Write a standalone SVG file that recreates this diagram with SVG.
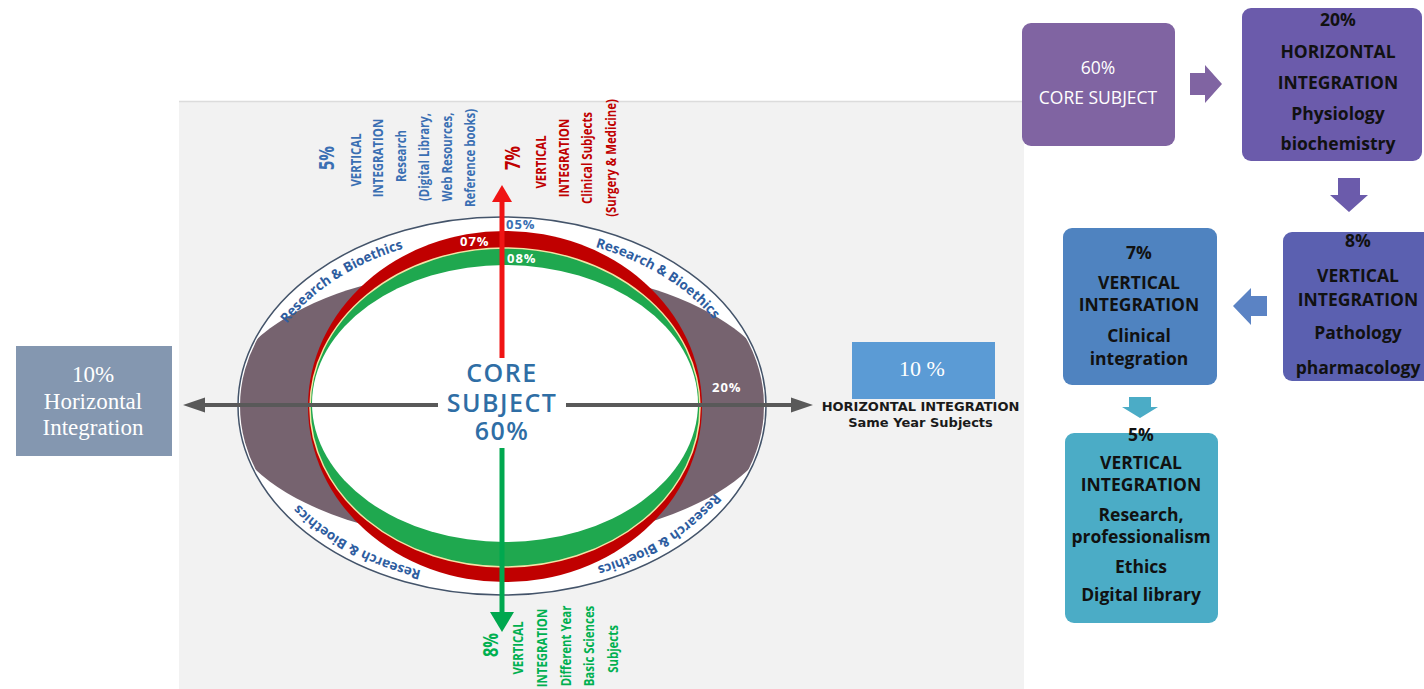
<svg xmlns="http://www.w3.org/2000/svg" width="1424" height="689" viewBox="0 0 1424 689">
<style>
.rb{font-family:"Open Sans","Liberation Sans",sans-serif;font-weight:700;font-size:13.5px;fill:#2e5d9f;}
.pct{font-family:"Open Sans","Liberation Sans",sans-serif;font-weight:700;font-size:13px;letter-spacing:1px;}
.rot{font-family:"Open Sans","Liberation Sans",sans-serif;font-weight:700;font-size:15px;text-anchor:middle;}
.big{font-size:21px;}
.blue{fill:#3a6fb3;}
.red{fill:#c00000;}
.green{fill:#00b050;}
.core{font-family:"Open Sans","Liberation Sans",sans-serif;font-weight:600;font-size:25px;letter-spacing:1.5px;fill:#2f6ea5;stroke:#ffffff;stroke-width:4px;paint-order:stroke;text-anchor:middle;}
.bx{font-family:"Open Sans","Liberation Sans",sans-serif;font-weight:700;font-size:17.5px;fill:#111111;text-anchor:middle;}
.bxw{font-family:"Open Sans","Liberation Sans",sans-serif;font-size:17.5px;fill:#ffffff;text-anchor:middle;}
.serif{font-family:"Liberation Serif","Times New Roman",serif;fill:#ffffff;text-anchor:middle;}
.hz{font-family:"DejaVu Sans","Verdana",sans-serif;font-weight:700;font-size:13px;fill:#1a1a1a;text-anchor:middle;}
</style>
<defs>
<clipPath id="outerClip"><ellipse cx="502" cy="406" rx="262" ry="187"/></clipPath>
<path id="arcTL" d="M266.5,358.6 A245,172 0 0 1 442.7,239.1"/>
<path id="arcTR" d="M554.9,238.1 A245,172 0 0 1 735.7,354.2"/>
<path id="arcBR" d="M736.3,458.3 A245,172 0 0 1 557.1,575.6"/>
<path id="arcBL" d="M463.8,577.9 A245,172 0 0 1 273.2,469.6"/>
</defs>

<rect x="179" y="101" width="845" height="588" fill="#f2f2f2"/>
<line x1="179" y1="101.5" x2="1024" y2="101.5" stroke="#dcdcdc" stroke-width="1.5"/>

<g id="integration-ellipse">
<ellipse cx="502" cy="406" rx="264" ry="189" fill="#ffffff" stroke="#44546a" stroke-width="1.5"/>
<ellipse cx="502" cy="405" rx="279" ry="138" fill="#76636f" clip-path="url(#outerClip)"/>
<ellipse cx="505" cy="406.5" rx="197" ry="175.5" fill="#c00000"/>
<ellipse cx="505" cy="407.5" rx="195" ry="159.5" fill="#1fa84f" stroke="#f3e4a6" stroke-width="1.5"/>
<ellipse cx="505" cy="403.5" rx="193" ry="138.5" fill="#ffffff"/>
<text class="rb"><textPath href="#arcTL" startOffset="50%" text-anchor="middle">Research &amp; Bioethics</textPath></text>
<text class="rb"><textPath href="#arcTR" startOffset="50%" text-anchor="middle">Research &amp; Bioethics</textPath></text>
<text class="rb"><textPath href="#arcBR" startOffset="50%" text-anchor="middle">Research &amp; Bioethics</textPath></text>
<text class="rb"><textPath href="#arcBL" startOffset="50%" text-anchor="middle">Research &amp; Bioethics</textPath></text>
<text class="pct blue" x="506" y="229">05%</text>
<text class="pct" x="460" y="246" fill="#ffffff">07%</text>
<text class="pct" x="507" y="263" fill="#ffffff">08%</text>
<text class="pct" x="712" y="392" fill="#ffffff">20%</text>
</g>

<g id="connectors">
<g id="horizontal-arrow" fill="#595959">
<rect x="200" y="403" width="238" height="4"/>
<rect x="566" y="403" width="229" height="4"/>
<polygon points="183,405 205,397.5 205,412.5"/>
<polygon points="813,405 791,397.5 791,412.5"/>
</g>
<g id="vertical-up-arrow" fill="#f01414">
<rect x="499.5" y="198" width="5" height="160"/>
<polygon points="502,185 512,202 492,202"/>
</g>
<g id="vertical-down-arrow" fill="#00a84f">
<rect x="499.5" y="448" width="5" height="167"/>
<polygon points="490,612 514,612 502,632"/>
</g>
<polygon id="arrow-core-to-horizontal" fill="#8064a2" points="1190,73 1205,73 1205,65 1222,84 1205,103 1205,95 1190,95"/>
<polygon id="arrow-horizontal-to-vertical8" fill="#6b5bab" points="1338,178 1360,178 1360,195 1368,195 1349,212 1330,195 1338,195"/>
<polygon id="arrow-vertical8-to-vertical7" fill="#5b83c4" points="1267,296 1267,316 1251,316 1251,325 1233,306 1251,288 1251,296"/>
<polygon id="arrow-vertical7-to-vertical5" fill="#4bacc6" points="1129,397 1151,397 1151,407 1158,407 1140,418 1122,407 1129,407"/>
</g>

<g id="core-subject-center">
<text class="core" x="502" y="382">CORE</text>
<text class="core" x="502" y="412">SUBJECT</text>
<text class="core" x="502" y="440">60%</text>
</g>

<g id="label-vertical-5">
<text class="rot big blue" transform="translate(334,158) rotate(-90) scale(0.78,1)">5%</text>
<text class="rot blue" transform="translate(361,160) rotate(-90) scale(0.76,1)">VERTICAL</text>
<text class="rot blue" transform="translate(383,158) rotate(-90) scale(0.76,1)">INTEGRATION</text>
<text class="rot blue" transform="translate(406,156) rotate(-90) scale(0.76,1)">Research</text>
<text class="rot blue" transform="translate(429,157) rotate(-90) scale(0.76,1)">(Digital Library,</text>
<text class="rot blue" transform="translate(452,157) rotate(-90) scale(0.76,1)">Web Resources,</text>
<text class="rot blue" transform="translate(475,158) rotate(-90) scale(0.76,1)">Reference books)</text>
</g>

<g id="label-vertical-7">
<text class="rot big red" transform="translate(520,158) rotate(-90) scale(0.78,1)">7%</text>
<text class="rot red" transform="translate(546,162) rotate(-90) scale(0.76,1)">VERTICAL</text>
<text class="rot red" transform="translate(569,158) rotate(-90) scale(0.76,1)">INTEGRATION</text>
<text class="rot red" transform="translate(592,158) rotate(-90) scale(0.76,1)">Clinical Subjects</text>
<text class="rot red" transform="translate(616,158) rotate(-90) scale(0.76,1)">(Surgery &amp; Medicine)</text>
</g>

<g id="label-vertical-8">
<text class="rot big green" transform="translate(498,645) rotate(-90) scale(0.78,1)">8%</text>
<text class="rot green" transform="translate(523,648) rotate(-90) scale(0.76,1)">VERTICAL</text>
<text class="rot green" transform="translate(547,648) rotate(-90) scale(0.76,1)">INTEGRATION</text>
<text class="rot green" transform="translate(571,646) rotate(-90) scale(0.76,1)">Different Year</text>
<text class="rot green" transform="translate(594,646) rotate(-90) scale(0.76,1)">Basic Sciences</text>
<text class="rot green" transform="translate(618,649) rotate(-90) scale(0.76,1)">Subjects</text>
</g>

<g id="label-horizontal-right">
<text class="hz" x="920.5" y="411">HORIZONTAL INTEGRATION</text>
<text class="hz" x="920.5" y="427">Same Year Subjects</text>
</g>

<g id="box-10-right">
<rect x="852" y="342" width="143" height="57" fill="#5b9bd5"/>
<text class="serif" x="922" y="376" font-size="22">10 %</text>
</g>

<g id="box-10-left">
<rect x="16" y="346" width="156" height="110" fill="#8497b0"/>
<text class="serif" x="93" y="382" font-size="23">10%</text>
<text class="serif" x="93" y="409" font-size="23">Horizontal</text>
<text class="serif" x="93" y="435" font-size="23">Integration</text>
</g>

<g id="flow-core">
<rect x="1022" y="23" width="153" height="123" rx="9" fill="#8064a2"/>
<text class="bxw" x="1098" y="74">60%</text>
<text class="bxw" x="1098" y="104">CORE SUBJECT</text>
</g>

<g id="flow-horizontal-20">
<rect x="1242" y="8" width="180" height="153" rx="9" fill="#6b5bab"/>
<text class="bx" x="1338" y="26">20%</text>
<text class="bx" x="1338" y="58">HORIZONTAL</text>
<text class="bx" x="1338" y="89">INTEGRATION</text>
<text class="bx" x="1338" y="120">Physiology</text>
<text class="bx" x="1338" y="150">biochemistry</text>
</g>

<g id="flow-vertical-8">
<rect x="1283" y="232" width="155" height="149" rx="9" fill="#5b60b0"/>
<text class="bx" x="1358" y="247">8%</text>
<text class="bx" x="1358" y="282">VERTICAL</text>
<text class="bx" x="1358" y="306">INTEGRATION</text>
<text class="bx" x="1358" y="339">Pathology</text>
<text class="bx" x="1358" y="374">pharmacology</text>
</g>

<g id="flow-vertical-7">
<rect x="1063" y="228" width="154" height="157" rx="9" fill="#4f83c0"/>
<text class="bx" x="1139" y="259">7%</text>
<text class="bx" x="1139" y="289">VERTICAL</text>
<text class="bx" x="1139" y="311">INTEGRATION</text>
<text class="bx" x="1139" y="342">Clinical</text>
<text class="bx" x="1139" y="365">integration</text>
</g>

<g id="flow-vertical-5">
<rect x="1065" y="433" width="153" height="190" rx="9" fill="#4bacc6"/>
<text class="bx" x="1141" y="441">5%</text>
<text class="bx" x="1141" y="469">VERTICAL</text>
<text class="bx" x="1141" y="491">INTEGRATION</text>
<text class="bx" x="1141" y="521">Research,</text>
<text class="bx" x="1141" y="543">professionalism</text>
<text class="bx" x="1141" y="573">Ethics</text>
<text class="bx" x="1141" y="601">Digital library</text>
</g>
</svg>
